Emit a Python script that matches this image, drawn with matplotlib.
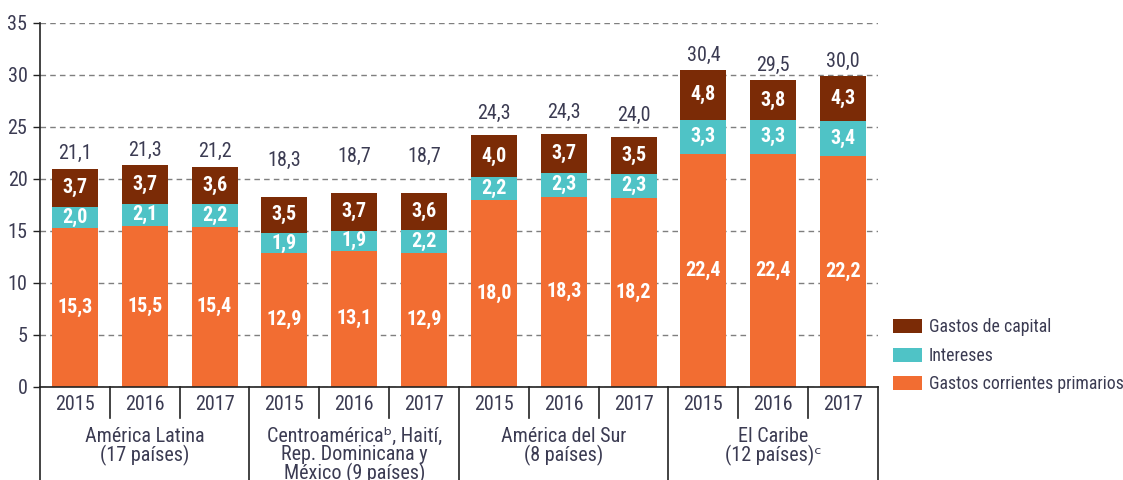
import matplotlib
matplotlib.use("Agg")
import matplotlib.pyplot as plt
import numpy as np

# datos (porcentajes del PIB)
grupos = ["América Latina\n(17 países)",
          "Centroaméricaᵇ, Haití,\nRep. Dominicana y\nMéxico (9 países)",
          "América del Sur\n(8 países)",
          "El Caribe\n(12 países)ᶜ"]
anios = ["2015", "2016", "2017"]

corrientes = [15.3, 15.5, 15.4, 12.9, 13.1, 12.9, 18.0, 18.3, 18.2, 22.4, 22.4, 22.2]
intereses = [2.0, 2.1, 2.2, 1.9, 1.9, 2.2, 2.2, 2.3, 2.3, 3.3, 3.3, 3.4]
capital = [3.7, 3.7, 3.6, 3.5, 3.7, 3.6, 4.0, 3.7, 3.5, 4.8, 3.8, 4.3]
totales = [21.1, 21.3, 21.2, 18.3, 18.7, 18.7, 24.3, 24.3, 24.0, 30.4, 29.5, 30.0]

# elevacion extra de las etiquetas de total, por grupo (como en el original)
elevacion = [0.0, 2.1, 0.7, 0.0]

COL_CORR = "#F26D32"
COL_INT = "#4FC3C6"
COL_CAP = "#7B2B06"
COL_TXT = "#3B3B52"

plt.rcParams['font.family'] = ['Roboto Condensed', 'IBM Plex Sans Condensed', 'DejaVu Sans']
FS = 14.5


def fmt(v):
    return f"{v:.1f}".replace(".", ",")


fig = plt.figure(figsize=(11.23, 4.8), dpi=100)
ax = fig.add_axes([40 / 1123, 1 - 387 / 480, 838 / 1123, 364 / 480])

n = len(corrientes)
x = np.arange(n)
corr = np.array(corrientes)
inte = np.array(intereses)
cap = np.array(capital)

ax.set_axisbelow(True)
ax.yaxis.grid(True, linestyle=(0, (4, 3)), color="#7f7f7f", linewidth=1.0)

w = 0.66
b1 = ax.bar(x, corr, w, color=COL_CORR, label="Gastos corrientes primarios")
b2 = ax.bar(x, inte, w, bottom=corr, color=COL_INT, label="Intereses")
b3 = ax.bar(x, cap, w, bottom=corr + inte, color=COL_CAP, label="Gastos de capital")

for i in range(n):
    ax.text(x[i], corr[i] / 2, fmt(corr[i]), ha="center", va="center",
            color="white", fontsize=FS, fontweight="bold")
    ax.text(x[i], corr[i] + inte[i] / 2, fmt(inte[i]), ha="center", va="center",
            color="white", fontsize=FS, fontweight="bold")
    ax.text(x[i], corr[i] + inte[i] + cap[i] / 2, fmt(cap[i]), ha="center", va="center",
            color="white", fontsize=FS, fontweight="bold")
    top = corr[i] + inte[i] + cap[i]
    ax.text(x[i], top + 0.5 + elevacion[i // 3], fmt(totales[i]), ha="center",
            va="bottom", color=COL_TXT, fontsize=FS)

ax.set_xlim(-0.5, n - 0.5)
ax.set_ylim(0, 35)
ax.set_yticks(range(0, 36, 5))
ax.tick_params(axis="y", direction="out", length=5, width=1, colors="#222222",
               labelcolor=COL_TXT, labelsize=FS, pad=4)
ax.set_xticks([])
for s in ["top", "right"]:
    ax.spines[s].set_visible(False)
ax.spines["left"].set_color("#222222")
ax.spines["bottom"].set_color("#222222")
ax.spines["left"].set_linewidth(1.2)
ax.spines["bottom"].set_linewidth(1.2)

# tabla de categorias bajo el eje
lc = "#222222"
for k in range(n + 1):
    xs = k - 0.5
    if k % 3 == 0:
        ax.plot([xs, xs], [0, -10], color=lc, lw=1.2, clip_on=False)
    else:
        ax.plot([xs, xs], [0, -3.0], color=lc, lw=1.2, clip_on=False)
for i in range(n):
    ax.text(x[i], -1.7, anios[i % 3], ha="center", va="center",
            color=COL_TXT, fontsize=FS)
for g, nombre in enumerate(grupos):
    ax.text(3 * g + 1, -3.8, nombre, ha="center", va="top", color=COL_TXT,
            fontsize=FS, linespacing=0.95)

leg = fig.legend(handles=[b3, b2, b1], loc="upper left",
                 bbox_to_anchor=(886 / 1123, 1 - 311 / 480), frameon=False,
                 borderaxespad=0, fontsize=12.8, handlelength=1.65,
                 handleheight=0.85, labelspacing=0.6, handletextpad=0.35)
for t in leg.get_texts():
    t.set_color(COL_TXT)

fig.savefig("out.png", dpi=100)
